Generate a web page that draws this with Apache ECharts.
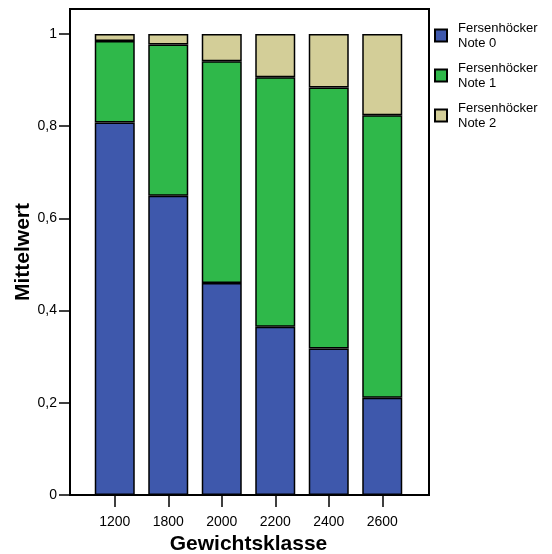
<!DOCTYPE html>
<html>
<head>
<meta charset="utf-8">
<script src="https://cdn.jsdelivr.net/npm/echarts@6/dist/echarts.min.js"></script>
<style>
  html, body { margin: 0; padding: 0; background: #fff; }
  #chart { width: 552px; height: 554px; }
</style>
</head>
<body>
<div id="chart"></div>
<script>
// Gewichtsklassen
const classes = ['1200', '1800', '2000', '2200', '2400', '2600'];
// Mittelwerte je Note (gestapelt)
const note0 = [0.808, 0.649, 0.460, 0.365, 0.318, 0.211];
const note1 = [0.177, 0.328, 0.481, 0.541, 0.566, 0.613];
const note2 = [0.015, 0.023, 0.059, 0.094, 0.116, 0.176];
const yTicks = [0, 0.2, 0.4, 0.6, 0.8, 1];

const font = 'Liberation Sans, Arial, sans-serif';
const chart = echarts.init(document.getElementById('chart'));

// Rahmen reicht über den Wert 1 hinaus (486 px Rahmen, 461 px für 0..1)
const frameMax = 486 / 461;

function barSeries(name, data, color) {
  return {
    name: name,
    type: 'bar',
    stack: 'total',
    data: data,
    barWidth: 40,
    itemStyle: { color: color, borderColor: '#000', borderWidth: 1.5 }
  };
}

chart.setOption({
  animation: false,
  textStyle: { fontFamily: font },
  grid: [
    { left: 88, right: 143, top: 34, bottom: 59, outerBoundsMode: 'none', containLabel: false },
    // Rahmen um den Diagrammbereich
    { left: 70, top: 9, width: 359, height: 486, show: true, outerBoundsMode: 'none',
      borderColor: '#000', borderWidth: 2, backgroundColor: 'transparent' }
  ],
  legend: {
    orient: 'vertical',
    left: 429,
    top: 14,
    itemWidth: 12,
    itemHeight: 12,
    itemGap: 7,
    icon: 'rect',
    textStyle: { fontSize: 13, color: '#000', lineHeight: 15, fontFamily: font,
      padding: [3, 0, 0, 6] },
    formatter: function (n) { return n.replace(' ', '\n'); },
    data: ['Fersenhöcker Note 0', 'Fersenhöcker Note 1', 'Fersenhöcker Note 2']
  },
  xAxis: [{
    type: 'category',
    data: classes,
    gridIndex: 0,
    axisLine: { show: false },
    axisTick: { show: true, alignWithLabel: true, length: 12,
      lineStyle: { color: '#000', width: 1.5 } },
    axisLabel: { color: '#000', fontSize: 14, margin: 20 },
    name: 'Gewichtsklasse',
    nameLocation: 'middle',
    nameGap: 39,
    nameTextStyle: { fontSize: 21, fontWeight: 'bold', color: '#000' }
  }, {
    type: 'value',
    gridIndex: 1,
    show: false
  }],
  yAxis: [{
    type: 'value',
    gridIndex: 0,
    min: 0,
    max: 1,
    show: false
  }, {
    type: 'value',
    gridIndex: 1,
    min: 0,
    max: frameMax,
    interval: 0.2,
    axisLine: { show: false },
    axisTick: { show: true, length: 11, customValues: yTicks,
      lineStyle: { color: '#000', width: 1.5 } },
    axisLabel: { color: '#000', fontSize: 14, margin: 13, customValues: yTicks,
      formatter: function (v) { return String(+v.toFixed(1)).replace('.', ','); } },
    splitLine: { show: false },
    name: 'Mittelwert',
    nameLocation: 'middle',
    nameGap: 36,
    nameMoveOverlap: false,
    nameTextStyle: { fontSize: 21, fontWeight: 'bold', color: '#000' }
  }],
  series: [
    barSeries('Fersenhöcker Note 0', note0, '#3e58ac'),
    barSeries('Fersenhöcker Note 1', note1, '#2fb84a'),
    barSeries('Fersenhöcker Note 2', note2, '#d3ce98')
  ]
});
</script>
</body>
</html>
